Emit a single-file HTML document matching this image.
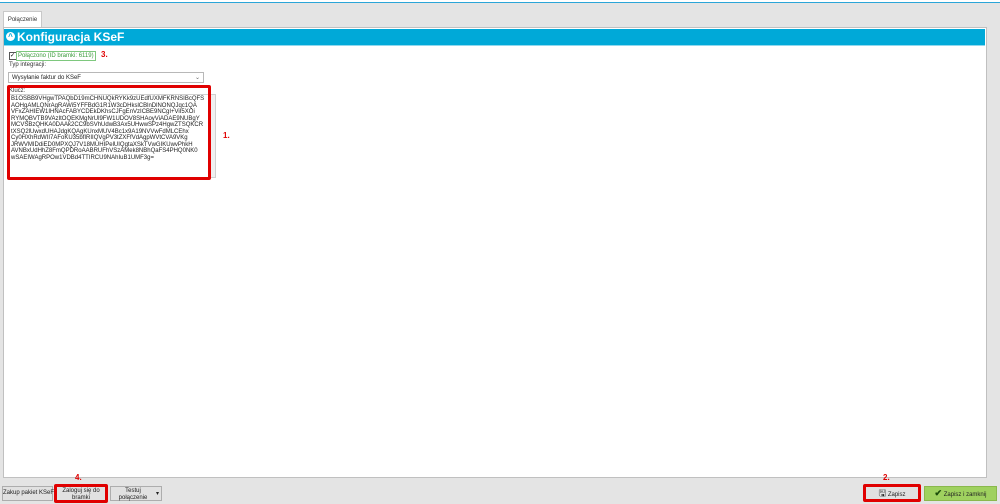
<!DOCTYPE html>
<html><head><meta charset="utf-8"><style>
body{margin:0;width:1000px;height:504px;background:#e4e4e4;position:relative;overflow:hidden;font-family:"Liberation Sans",sans-serif;}
.a{position:absolute;}
.btn{position:absolute;background:#e1e1e1;border:1px solid #adadad;font-size:6px;text-align:center;color:#222;box-sizing:border-box;white-space:nowrap;}
.red{position:absolute;border:3px solid #e00000;box-sizing:border-box;border-radius:2px;}
.rl{position:absolute;color:#e00000;font-size:8px;font-weight:bold;}
</style></head><body>
<div class="a" style="left:0;top:0;width:1000px;height:2px;background:#fff"></div>
<div class="a" style="left:0;top:2px;width:1000px;height:1px;background:#2aa5d8"></div>
<div class="a" style="left:3px;top:11px;width:37px;height:17px;background:#fff;border:1px solid #c8c8c8;border-bottom:none;font-size:6px;line-height:16px;text-align:center;color:#333">Połączenie</div>
<div class="a" style="left:3px;top:27px;width:982px;height:449px;background:#fff;border:1px solid #c0c0c0"></div>
<div class="a" style="left:4px;top:29px;width:981px;height:16px;background:#00a9d8;border-bottom:1px solid #8fd8ee"></div>
<div class="a" style="left:6px;top:32px;width:9px;height:9px;border-radius:50%;background:#fff;color:#00a9d8;font-size:8px;line-height:10px;text-align:center;font-weight:bold">^</div>
<div class="a" style="left:17px;top:30px;color:#fff;font-size:12px;font-weight:bold;line-height:15px">Konfiguracja KSeF</div>
<div class="a" style="left:9px;top:52px;width:6px;height:6px;border:1px solid #555;font-size:6px;line-height:6px">✓</div>
<div class="a" style="left:16px;top:51px;border:1px solid #7ec87e;color:#3a9a3a;font-size:6px;padding:0 1px;line-height:8px">Połączono (ID bramki: 6119)</div>
<div class="rl" style="left:101px;top:50px">3.</div>
<div class="a" style="left:9px;top:62px;font-size:6px;color:#333">Typ integracji:</div>
<div class="a" style="left:8px;top:72px;width:196px;height:11px;border:1px solid #b8b8b8;font-size:6px;line-height:10px;color:#222;box-sizing:border-box;padding-left:3px">Wysyłanie faktur do KSeF<span style="position:absolute;right:3px;color:#666">⌄</span></div>
<div class="a" style="left:9px;top:88px;font-size:6px;color:#333">Klucz:</div>
<div class="a" style="left:9px;top:94px;width:207px;height:84px;border:1px solid #d0d0d0;box-sizing:border-box"></div>
<div class="a" style="left:209px;top:95px;width:6px;height:82px;background:#f0f0f0"></div>
<div class="a" style="left:11px;top:96px;font-size:6px;line-height:6.5px;color:#222;white-space:pre">B1OSBB9VHgwTPAQbD19mCHNUQkRYKk9zUEdfUXMFKRNSIBcQFS
AOHgAMLQNrAgRAWi5YFFBdG1R1W3cDHkslCBlnDlNONQJqc1QA
VFxZAHIEW1IHNAcFABYCDEkDKhsCJFgEnVzICBE9NCgI+ViI5XOi
RYMQBVTB9VAzItOQEKMgNrUl9FW1UDOV8SHAoyViADAE9NUBgY
MCVSBzQHKA0DAAk2CC9bSVhUdwB3Ax5UHwwSPz4HgwZTSQKCR
tXSQ2lUwxdUHAJdgKQAgKUnxMUV4Bc1x9A19NVVwFdMLCEhx
Cy0HXhRdWII7AFoKU35bfIRIIQVgPV3tZXFfVdAgpWVtCVA9VKg
JRWVMIDdiED0MPXQJ7V18MUHIPelUIQgtaXSkTVwGIKUwvPhkH
AVNBxUdHhZ8FmQPDRoAABRUFhVSzAMek8NBhQaFS4PHQ0NK0
wSAEIWAgRPOw1VDBd4TTIRCU9NAhIuB1UMF3g=</div>
<div class="red" style="left:7px;top:85px;width:204px;height:95px"></div>
<div class="rl" style="left:223px;top:131px">1.</div>
<div class="btn" style="left:2px;top:486px;width:51px;height:15px;line-height:13px">Zakup pakiet KSeF</div>
<div class="btn" style="left:56px;top:486px;width:50px;height:15px;line-height:6.5px;padding-top:1px">Zaloguj się do<br>bramki</div>
<div class="red" style="left:54px;top:484px;width:54px;height:19px"></div>
<div class="rl" style="left:75px;top:473px">4.</div>
<div class="btn" style="left:110px;top:486px;width:52px;height:15px;line-height:6.5px;padding-top:1px;padding-right:6px">Testuj<br>połączenie<span style="position:absolute;right:2px;top:4px">▾</span></div>
<div class="btn" style="left:865px;top:486px;width:54px;height:14px;line-height:12px"><span style="font-size:9px">🖫</span> Zapisz</div>
<div class="red" style="left:863px;top:484px;width:58px;height:18px"></div>
<div class="rl" style="left:883px;top:473px">2.</div>
<div class="btn" style="left:924px;top:486px;width:73px;height:15px;line-height:13px;background:#9fd15f;border-color:#8ab84c"><span style="color:#1b4d0a;font-weight:bold;font-size:9px">✔</span> Zapisz i zamknij</div>
</body></html>
